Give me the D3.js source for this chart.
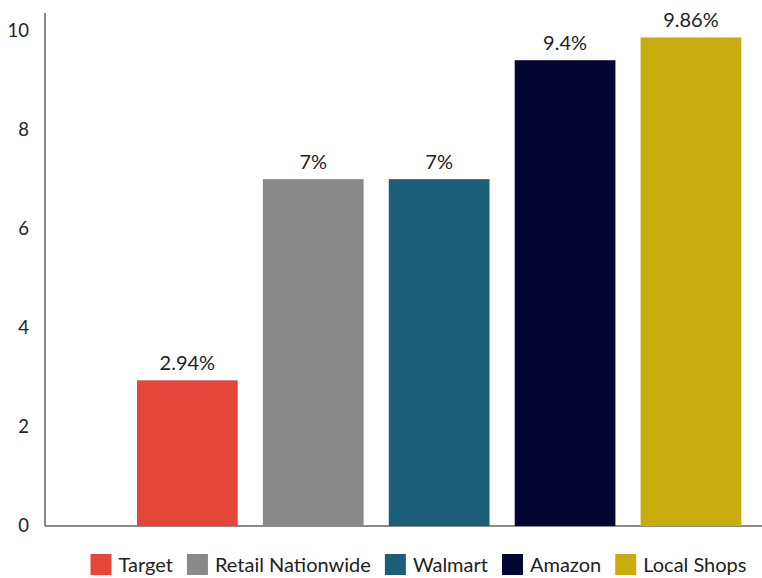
<!DOCTYPE html>
<html>
<head>
<meta charset="utf-8">
<script src="https://cdn.jsdelivr.net/npm/d3@7"></script>
<style>
  html, body { margin: 0; padding: 0; background: #fff; }
  svg { display: block; font-family: Lato, "Open Sans", sans-serif; }
</style>
</head>
<body>
<svg id="chart" width="762" height="578"></svg>
<script>
const categories = ["Target", "Retail Nationwide", "Walmart", "Amazon", "Local Shops"];
const values = [2.94, 7, 7, 9.4, 9.86];
const valueLabels = ["2.94%", "7%", "7%", "9.4%", "9.86%"];
const colors = ["#e4463a", "#898989", "#1b5e78", "#050531", "#c9ac0d"];
const yTicks = [0, 2, 4, 6, 8, 10];

const svg = d3.select("#chart");
const axisX = 45, baseY = 526, topY = 13;

const y = d3.scaleLinear().domain([0, d3.max(values) * 1.05]).range([baseY, topY]);
const x = d3.scaleBand().domain(categories).range([124.4, 753.9]).paddingInner(0.2).paddingOuter(0.1);
const color = d3.scaleOrdinal().domain(categories).range(colors);

// y axis
const yAxis = d3.axisLeft(y).tickValues(yTicks).tickSize(0).tickPadding(16).tickFormat(d3.format("d"));
const gy = svg.append("g").attr("transform", `translate(${axisX},0)`).call(yAxis);
gy.select(".domain").remove();
gy.selectAll("text").attr("font-size", 18.5).attr("fill", "#222").style("font-family", "Lato, sans-serif");

// axis lines
svg.append("line").attr("x1", axisX).attr("x2", axisX).attr("y1", topY).attr("y2", baseY)
  .attr("stroke", "#666").attr("stroke-width", 1.5);
svg.append("line").attr("x1", axisX).attr("x2", 762).attr("y1", baseY).attr("y2", baseY)
  .attr("stroke", "#666").attr("stroke-width", 1.5);

// bars
svg.append("g").selectAll("rect").data(categories).join("rect")
  .attr("x", d => x(d)).attr("width", x.bandwidth())
  .attr("y", (d, i) => y(values[i])).attr("height", (d, i) => baseY - y(values[i]))
  .attr("fill", d => color(d));

// value labels
svg.append("g").selectAll("text").data(categories).join("text")
  .attr("x", d => x(d) + x.bandwidth() / 2)
  .attr("y", (d, i) => y(values[i]) - 10)
  .attr("text-anchor", "middle").attr("font-size", 20).attr("fill", "#222")
  .text((d, i) => valueLabels[i]);

// legend
const legend = svg.append("g");
const sw = 21, gapText = 7, gapItem = 14;
let cx = 0;
const items = legend.selectAll("g").data(categories).join("g");
items.append("rect").attr("width", sw).attr("height", sw).attr("y", -18)
  .attr("fill", d => color(d));
items.append("text").attr("x", sw + gapText).attr("y", 0)
  .attr("font-size", 20).attr("fill", "#222").text(d => d);
items.each(function() {
  const g = d3.select(this);
  g.attr("transform", `translate(${cx},0)`);
  cx += sw + gapText + g.select("text").node().getComputedTextLength() + gapItem;
});
const totalW = cx - gapItem;
legend.attr("transform", `translate(${418.5 - totalW / 2},572)`);
</script>
</body>
</html>
